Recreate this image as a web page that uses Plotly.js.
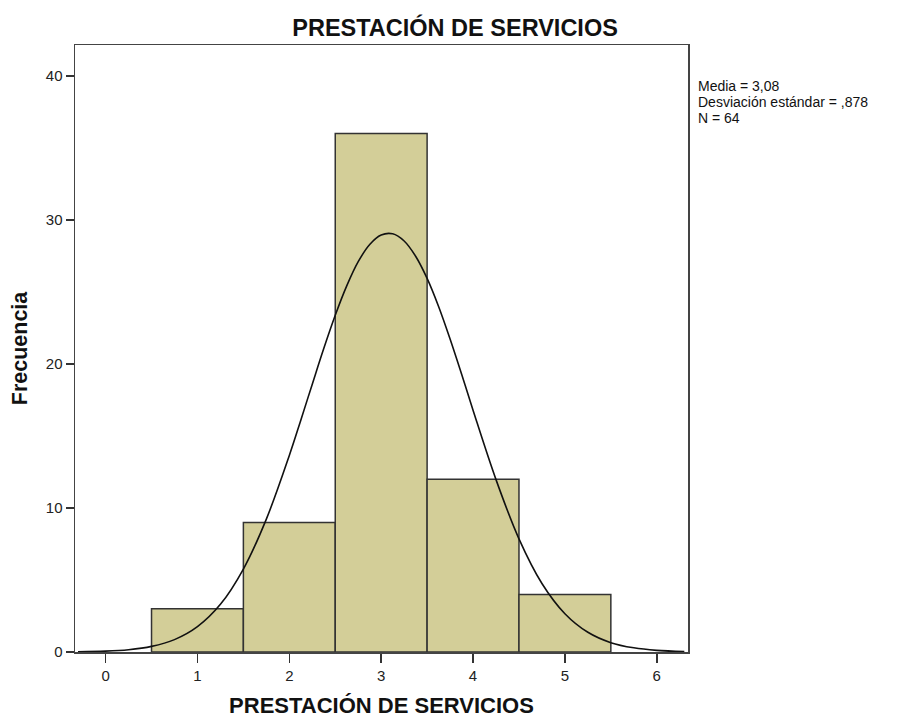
<!DOCTYPE html>
<html>
<head>
<meta charset="utf-8">
<script src="https://cdn.plot.ly/plotly-3.0.1.min.js"></script>
<style>html,body{margin:0;padding:0;background:#fff;}#chart{width:898px;height:718px;}</style>
</head>
<body>
<div id="chart"></div>
<script>
// Histogram bins (category midpoints) and frequencies
const binCenters = [1, 2, 3, 4, 5];
const frequencies = [3, 9, 36, 12, 4];

// Normal curve points
const curveX = [-0.3, 0, 0.25, 0.5, 0.75, 1, 1.25, 1.5, 1.75, 2, 2.125, 2.25, 2.375, 2.5, 2.625, 2.75, 2.875, 3, 3.125, 3.25, 3.375, 3.5, 3.625, 3.75, 3.875, 4, 4.25, 4.5, 4.75, 5, 5.25, 5.5, 5.75, 6, 6.3];
const curveY = [0.02, 0.06, 0.16, 0.39, 0.86, 1.76, 3.31, 5.76, 9.23, 13.65, 16.1, 18.6, 21.07, 23.38, 25.42, 27.1, 28.3, 28.96, 29.04, 28.54, 27.48, 25.94, 23.99, 21.73, 19.3, 16.79, 11.97, 7.86, 4.76, 2.66, 1.37, 0.65, 0.29, 0.115, 0.035];

// Tick labels
const xTicks = [0, 1, 2, 3, 4, 5, 6];
const yTicks = [0, 10, 20, 30, 40];

const statsLines = ["Media = 3,08", "Desviación estándar = ,878", "N = 64"];

const traces = [
  {
    type: 'bar',
    x: binCenters,
    y: frequencies,
    width: 1,
    marker: {color: '#d3ce98', line: {color: '#333333', width: 1.5}},
    hoverinfo: 'x+y'
  },
  {
    type: 'scatter',
    mode: 'lines',
    x: curveX,
    y: curveY,
    line: {color: '#111111', width: 1.6, shape: 'spline', smoothing: 1},
    hoverinfo: 'skip'
  }
];

const fam = 'Liberation Sans, Arial, sans-serif';
const axisFont = {family: fam, size: 15, color: '#222'};

const statsAnnotations = statsLines.map((t, i) => ({
  xref: 'paper', yref: 'paper',
  x: 1.013, y: (652 - (86 + i * 16)) / 607,
  xanchor: 'left', yanchor: 'middle', align: 'left',
  showarrow: false,
  text: t,
  font: {family: fam, size: 14, color: '#111'}
}));

const layout = {
  width: 898,
  height: 718,
  margin: {l: 75, r: 210, t: 45, b: 66},
  paper_bgcolor: '#ffffff',
  plot_bgcolor: '#ffffff',
  showlegend: false,
  bargap: 0,
  title: {
    text: 'PRESTACIÓN DE SERVICIOS',
    font: {family: fam, size: 23.5, color: '#111', weight: 'bold'},
    x: 0.62, xanchor: 'center', xref: 'paper',
    y: 0.962, yanchor: 'middle', yref: 'container'
  },
  xaxis: {
    range: [-0.333, 6.34],
    tickvals: xTicks,
    ticktext: xTicks.map(String),
    ticks: 'outside', ticklen: 9, tickwidth: 1.5, tickcolor: '#333',
    showline: true, linecolor: '#444', linewidth: 1.5, mirror: true,
    showgrid: false, zeroline: false,
    tickfont: axisFont,
    title: {text: 'PRESTACIÓN DE SERVICIOS', font: {family: fam, size: 22, color: '#111', weight: 'bold'}, standoff: 16}
  },
  yaxis: {
    range: [0, 42.15],
    tickvals: yTicks,
    ticktext: yTicks.map(String),
    ticks: 'outside', ticklen: 8, tickwidth: 1.5, tickcolor: '#333',
    showline: true, linecolor: '#444', linewidth: 1.5, mirror: true,
    showgrid: false, zeroline: false,
    tickfont: axisFont,
    title: {text: 'Frecuencia', font: {family: fam, size: 21.5, color: '#111', weight: 'bold'}, standoff: 12}
  },
  annotations: statsAnnotations
};

Plotly.newPlot('chart', traces, layout, {displayModeBar: false, staticPlot: true});
</script>
</body>
</html>
